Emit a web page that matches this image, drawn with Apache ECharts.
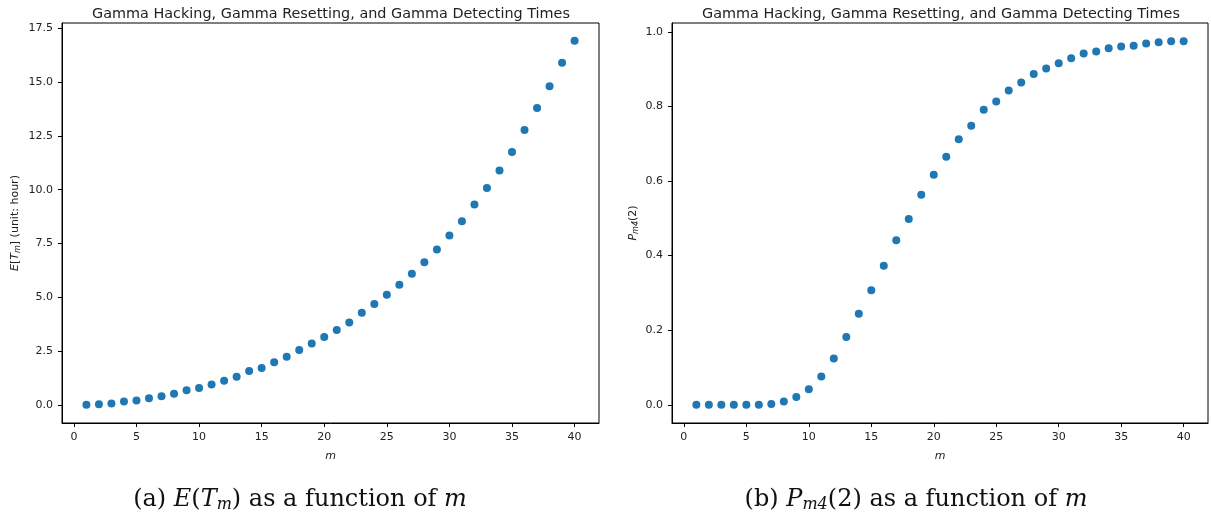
<!DOCTYPE html>
<html lang="en">
<head>
    <meta charset="UTF-8" />
    <title>Gamma times</title>
    <script src="https://cdn.jsdelivr.net/npm/echarts@6.0.0/dist/echarts.min.js"></script>
    <style>
        html, body { margin: 0; padding: 0; background: #fff; }
    </style>
</head>
<body>
    <div id="main" style="width: 1211px; height: 518px"></div>
    <script>
        // data
        var mValues = [1, 2, 3, 4, 5, 6, 7, 8, 9, 10, 11, 12, 13, 14, 15, 16, 17, 18, 19, 20,
            21, 22, 23, 24, 25, 26, 27, 28, 29, 30, 31, 32, 33, 34, 35, 36, 37, 38, 39, 40];
        var expectedTime = [0.0, 0.03, 0.06, 0.15, 0.2, 0.31, 0.4, 0.51, 0.68, 0.78,
            0.94, 1.12, 1.31, 1.57, 1.71, 1.98, 2.23, 2.55, 2.85, 3.15,
            3.48, 3.83, 4.28, 4.68, 5.11, 5.58, 6.09, 6.63, 7.22, 7.87,
            8.53, 9.31, 10.08, 10.89, 11.75, 12.77, 13.79, 14.8, 15.9, 16.92];
        var probM4 = [0.0, 0.0, 0.0, 0.0, 0.0, 0.0, 0.002, 0.009, 0.021, 0.042,
            0.076, 0.124, 0.182, 0.244, 0.307, 0.373, 0.441, 0.498, 0.563, 0.617,
            0.665, 0.712, 0.748, 0.791, 0.813, 0.843, 0.864, 0.887, 0.902, 0.916,
            0.929, 0.942, 0.947, 0.956, 0.961, 0.963, 0.969, 0.972, 0.975, 0.975];
        var xTicks = [0, 5, 10, 15, 20, 25, 30, 35, 40];
        var leftTicks = [0, 2.5, 5, 7.5, 10, 12.5, 15, 17.5];
        var rightTicks = [0, 0.2, 0.4, 0.6, 0.8, 1.0];

        var titleText = "Gamma Hacking, Gamma Resetting, and Gamma Detecting Times";
        var blue = "#1f77b4";
        var tickFont = { fontFamily: "DejaVu Sans", fontSize: 11, color: "#222" };

        function pairs(ys) {
            return mValues.map(function (m, i) { return [m, ys[i]]; });
        }

        function xAxisFor(grid) {
            return {
                gridIndex: grid,
                type: "value",
                min: -0.95,
                max: 41.95,
                name: "m",
                nameLocation: "middle",
                nameGap: 28,
                nameTextStyle: { fontFamily: "DejaVu Sans", fontStyle: "italic", fontSize: 11, color: "#222" },
                axisLine: { show: true, onZero: false, lineStyle: { color: "#000", width: 1 } },
                axisTick: { show: true, length: 4, lineStyle: { color: "#000" }, customValues: xTicks },
                axisLabel: Object.assign({ margin: 9, customValues: xTicks }, tickFont),
                splitLine: { show: false }
            };
        }

        function yAxisFor(grid, min, max, ticks, name, gap) {
            return {
                gridIndex: grid,
                type: "value",
                min: min,
                max: max,
                name: name,
                nameLocation: "middle",
                nameRotate: 90,
                nameGap: gap,
                nameTextStyle: {
                    fontFamily: "DejaVu Sans", fontSize: 11, color: "#222",
                    rich: {
                        i: { fontFamily: "DejaVu Sans", fontStyle: "italic", fontSize: 11, color: "#222" },
                        s: { fontFamily: "DejaVu Sans", fontStyle: "italic", fontSize: 8, color: "#222", padding: [5, 0, 0, 0] }
                    }
                },
                axisLine: { show: true, onZero: false, lineStyle: { color: "#000", width: 1 } },
                axisTick: { show: true, length: 4, lineStyle: { color: "#000" }, customValues: ticks },
                axisLabel: Object.assign({
                    margin: 9,
                    customValues: ticks,
                    formatter: function (v) { return v.toFixed(1); }
                }, tickFont),
                splitLine: { show: false }
            };
        }

        var captionRich = {
            n: { fontFamily: "DejaVu Serif", fontWeight: "normal", fontSize: 24, color: "#111" },
            i: { fontFamily: "DejaVu Serif", fontWeight: "normal", fontStyle: "italic", fontSize: 24, color: "#111" },
            s: { fontFamily: "DejaVu Serif", fontWeight: "normal", fontStyle: "italic", fontSize: 16, color: "#111", padding: [10, 0, 0, 0] }
        };

        var chart = echarts.init(document.getElementById("main"), null, { renderer: "canvas" });

        var option = {
            animation: false,
            backgroundColor: "#fff",
            title: [
                { text: titleText, left: 326, top: 2, textAlign: "center",
                  textStyle: { fontFamily: "DejaVu Sans", fontSize: 14.4, fontWeight: "normal", color: "#222" } },
                { text: titleText, left: 936, top: 2, textAlign: "center",
                  textStyle: { fontFamily: "DejaVu Sans", fontSize: 14.4, fontWeight: "normal", color: "#222" } },
                { text: "{n|(a) }{i|E}{n|(}{i|T}{s|m}{n|) as a function of }{i|m}", left: 295, top: 482, textAlign: "center",
                  textStyle: { fontWeight: "normal", rich: captionRich } },
                { text: "{n|(b) }{i|P}{s|m4}{n|(2) as a function of }{i|m}", left: 911, top: 482, textAlign: "center",
                  textStyle: { fontWeight: "normal", rich: captionRich } }
            ],
            grid: [
                { left: 62, top: 23, width: 537, height: 400, show: true, borderColor: "#000", borderWidth: 1, backgroundColor: "transparent" },
                { left: 672, top: 23, width: 536, height: 400, show: true, borderColor: "#000", borderWidth: 1, backgroundColor: "transparent" }
            ],
            xAxis: [xAxisFor(0), xAxisFor(1)],
            yAxis: [
                yAxisFor(0, -0.845, 17.745, leftTicks, "{i|E}[{i|T}{s|m}] (unit: hour)", 40),
                yAxisFor(1, -0.04875, 1.02375, rightTicks, "{i|P}{s|m4}(2)", 32)
            ],
            series: [
                { type: "scatter", xAxisIndex: 0, yAxisIndex: 0, data: pairs(expectedTime),
                  symbolSize: 8, itemStyle: { color: blue, opacity: 1 } },
                { type: "scatter", xAxisIndex: 1, yAxisIndex: 1, data: pairs(probM4),
                  symbolSize: 8, itemStyle: { color: blue, opacity: 1 } }
            ]
        };

        chart.setOption(option);
    </script>
</body>
</html>
